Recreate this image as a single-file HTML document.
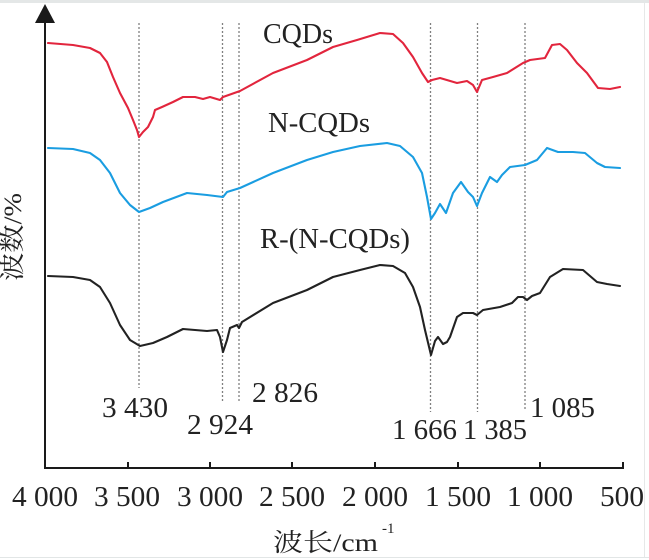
<!DOCTYPE html>
<html><head><meta charset="utf-8"><style>
html,body{margin:0;padding:0;background:#fff;}
svg{display:block;}
</style></head><body>
<svg width="649" height="560" viewBox="0 0 649 560" xmlns="http://www.w3.org/2000/svg">
<rect x="0" y="0" width="649" height="560" fill="#ffffff"/>
<rect x="0" y="0" width="649" height="3" fill="#e4e7e7"/>
<line x1="644.5" y1="3" x2="644.5" y2="557" stroke="#e6e8e8" stroke-width="1"/>
<line x1="0" y1="557.5" x2="649" y2="557.5" stroke="#e2e6e6" stroke-width="1"/>

<!-- dotted reference lines -->
<g stroke="#808080" stroke-width="1.3" stroke-dasharray="2,2" fill="none">
<line x1="139" y1="23" x2="139" y2="388"/>
<line x1="222.5" y1="23" x2="222.5" y2="402"/>
<line x1="239" y1="23" x2="239" y2="402"/>
<line x1="430.5" y1="23" x2="430.5" y2="412"/>
<line x1="477.5" y1="23" x2="477.5" y2="412"/>
<line x1="525" y1="23" x2="525" y2="410"/>
</g>

<!-- axes -->
<g stroke="#1a1a1a" stroke-width="2" fill="none">
<line x1="45" y1="20" x2="45" y2="468"/>
<line x1="44" y1="468" x2="624" y2="468"/>
<line x1="128" y1="462" x2="128" y2="468"/>
<line x1="210" y1="462" x2="210" y2="468"/>
<line x1="292" y1="462" x2="292" y2="468"/>
<line x1="375" y1="462" x2="375" y2="468"/>
<line x1="458" y1="462" x2="458" y2="468"/>
<line x1="540" y1="462" x2="540" y2="468"/>
<line x1="623" y1="462" x2="623" y2="468"/>
</g>
<polygon points="45,4 35,23 55,23" fill="#1a1a1a"/>

<!-- CQDs red -->
<polyline fill="none" stroke="#e2253d" stroke-width="2.1" stroke-linejoin="round" stroke-linecap="round" points="
48,43 73,45 90,48 100,53 107,62 113,77 120,93 128,108 133,120 137,130 139,137 143,132 148,127 153,117 155,110 162,107 173,102 183,97 195,97 203,99 210,97 220,100 223,97 240,91 273,73 307,60 333,47 357,40 380,33 393,34 403,43 413,57 422,73 428,82 432,80 440,78 457,83 467,81 473,85 477,92 482,80 493,77 507,73 523,63 530,60 545,58 552,45 560,44 567,50 577,63 587,73 598,88 610,89 620,87"/>

<!-- N-CQDs blue -->
<polyline fill="none" stroke="#1a9de1" stroke-width="2.1" stroke-linejoin="round" stroke-linecap="round" points="
48,148 73,149 90,153 100,160 110,173 120,193 130,205 139,212 150,208 163,202 187,193 207,195 223,197 227,192 240,188 273,173 307,160 333,152 360,146 387,143 400,146 413,157 422,173 427,197 431,219 435,213 440,204 446,213 453,193 461,182 468,192 473,197 477,206 482,193 490,177 497,182 502,175 510,167 525,165 537,160 547,148 558,152 573,152 585,153 597,163 605,167 620,168"/>

<!-- R-(N-CQDs) black -->
<polyline fill="none" stroke="#222222" stroke-width="2.1" stroke-linejoin="round" stroke-linecap="round" points="
48,276 73,277 90,280 100,287 110,303 120,325 130,340 140,346 153,343 167,337 183,329 207,331 217,330 220,337 223,352 227,340 230,328 237,325 239,328 242,322 273,303 307,290 333,277 360,270 380,265 393,266 405,273 413,287 420,307 425,330 431,355 435,341 438,337 443,344 447,342 450,337 457,317 463,313 473,313 477,315 483,310 500,307 512,303 518,297 523,297 527,300 532,296 540,293 550,277 563,269 583,270 597,282 607,284 620,286"/>

<!-- series labels -->
<g font-family="'Liberation Serif', 'Noto Serif CJK SC', serif" font-size="28" fill="#222">
<text x="263" y="43" textLength="70" lengthAdjust="spacingAndGlyphs">CQDs</text>
<text x="268" y="132" textLength="102" lengthAdjust="spacingAndGlyphs">N-CQDs</text>
<text x="260" y="248" textLength="150" lengthAdjust="spacingAndGlyphs">R-(N-CQDs)</text>
</g>

<!-- peak labels -->
<g font-family="'Liberation Serif', serif" font-size="28" fill="#222">
<text x="102" y="417" textLength="66" lengthAdjust="spacingAndGlyphs">3 430</text>
<text x="187" y="434" textLength="66" lengthAdjust="spacingAndGlyphs">2 924</text>
<text x="252" y="402" textLength="66" lengthAdjust="spacingAndGlyphs">2 826</text>
<text x="392" y="439" textLength="65" lengthAdjust="spacingAndGlyphs">1 666</text>
<text x="463" y="439" textLength="64" lengthAdjust="spacingAndGlyphs">1 385</text>
<text x="530" y="417" textLength="65" lengthAdjust="spacingAndGlyphs">1 085</text>
</g>

<!-- tick labels -->
<g font-family="'Liberation Serif', serif" font-size="28" fill="#222">
<text x="12" y="506" textLength="66" lengthAdjust="spacingAndGlyphs">4 000</text>
<text x="94" y="506" textLength="66" lengthAdjust="spacingAndGlyphs">3 500</text>
<text x="177" y="506" textLength="66" lengthAdjust="spacingAndGlyphs">3 000</text>
<text x="259" y="506" textLength="66" lengthAdjust="spacingAndGlyphs">2 500</text>
<text x="342" y="506" textLength="66" lengthAdjust="spacingAndGlyphs">2 000</text>
<text x="425" y="506" textLength="66" lengthAdjust="spacingAndGlyphs">1 500</text>
<text x="507" y="506" textLength="66" lengthAdjust="spacingAndGlyphs">1 000</text>
<text x="600" y="506" textLength="44" lengthAdjust="spacingAndGlyphs">500</text>
</g>

<!-- axis titles -->
<text x="273" y="551" font-family="'Liberation Serif', 'Noto Serif CJK SC', serif" font-size="25" fill="#222" textLength="105" lengthAdjust="spacingAndGlyphs">波长/cm</text>
<text x="382" y="533" font-family="'Liberation Serif', serif" font-size="15" fill="#222">-1</text>
<text transform="translate(21,237) rotate(-90)" text-anchor="middle" font-family="'Liberation Serif', 'Noto Serif CJK SC', serif" font-size="25" fill="#222" textLength="88" lengthAdjust="spacingAndGlyphs">波数/%</text>
</svg>
</body></html>
